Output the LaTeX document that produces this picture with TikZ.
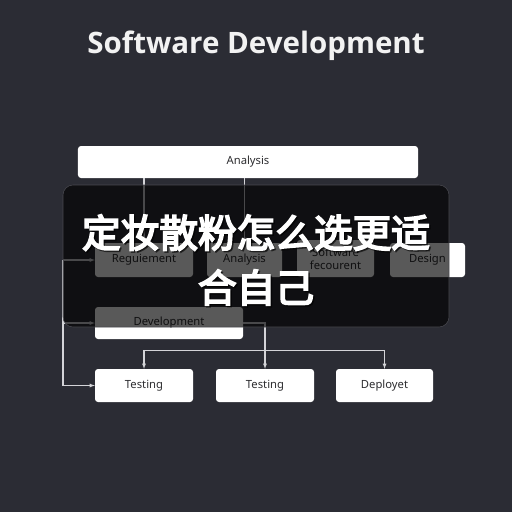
\documentclass[tikz,border=0pt]{standalone}
\usepackage{fontspec}
\setmainfont{Noto Sans}
\newfontfamily\titlefont{Open Sans}
\newfontfamily\cjk{Noto Sans CJK SC}[FakeBold=4.5]
\usetikzlibrary{arrows}
\definecolor{bgcol}{RGB}{43,44,52}
\definecolor{wirecol}{RGB}{212,212,216}
\definecolor{labelcol}{RGB}{45,45,48}
\definecolor{rimcol}{RGB}{72,72,78}

\begin{document}
\begin{tikzpicture} [x=0.5mm, y=-0.5mm, align=center, >=latex,
	box/.style={fill=white, rounded corners=1.5mm, inner sep=0pt, text=labelcol, font=\fontsize{16}{18.5}\selectfont},
	wire/.style={draw=wirecol, line width=1.5pt}]
\fill[bgcol] (0,0) rectangle (512,512);

\path (256,46) node[text=white!95!black, font=\titlefont\bfseries\fontsize{42}{50}\selectfont] (title) {Software Development};

\path (248,162) node[box, minimum width=170mm, minimum height=16mm] (top) {Analysis}
	  (144,260) node[box, minimum width=49mm, minimum height=17mm] (req) {Reguiement}
	  (244.5,260) node[box, minimum width=37.5mm, minimum height=17mm] (ana) {Analysis}
	  (335.5,258.5) node[box, minimum width=38.5mm, minimum height=18.5mm] (sw) {Software\\fecourent}
	  (427.5,260) node[box, minimum width=37.5mm, minimum height=17mm] (des) {Design};

\path (169,323) node[box, minimum width=74mm, minimum height=16mm] (dev) {Development}
	  (144,385.5) node[box, minimum width=49mm, minimum height=16.5mm] (t1) {Testing}
	  (265,385.5) node[box, minimum width=49mm, minimum height=16.5mm] (t2) {Testing}
	  (384.5,385.5) node[box, minimum width=48.5mm, minimum height=16.5mm] (dep) {Deployet};

\coordinate (spine) at (63,260);

\draw[wire, ->] (top.south -| req.north) to (req.north);
\draw[wire, ->] (top.south -| ana.north) to (ana.north);
\draw[wire, ->] (spine) to (req.west);
\draw[wire, ->] (spine |- dev.west) to (dev.west);
\draw[wire, ->] (spine) |- (t1.west);
\draw[wire, ->] (dev.east) -| (t2.north);
\draw[wire, <->] (t1.north) -- ++(0,-18) -| (dep.north);

\draw[rimcol, line width=0.8pt, fill=black, fill opacity=0.65, rounded corners=5mm] (63,185) rectangle (449,327);

\path (257.5,261.5) node[text=black, opacity=0.55, font=\cjk\fontsize{55}{78}\selectfont] (shadow) {定妆散粉怎么选更适\\合自己}
	  (256,260) node[text=white, font=\cjk\fontsize{55}{78}\selectfont] (headline) {定妆散粉怎么选更适\\合自己};
\end{tikzpicture}
\end{document}
